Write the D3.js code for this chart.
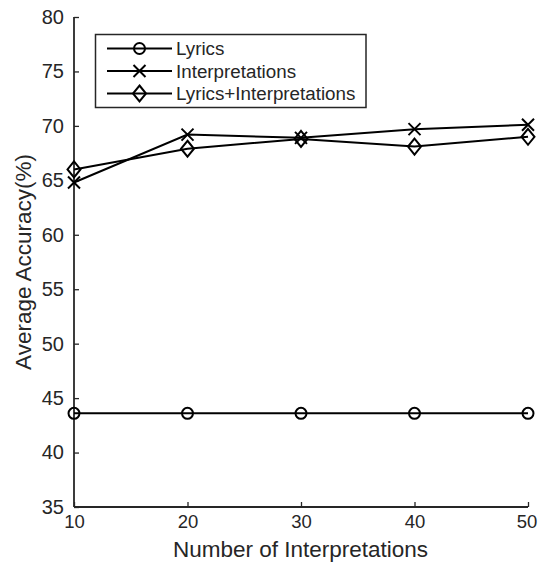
<!DOCTYPE html>
<html>
<head>
<meta charset="utf-8">
<script src="https://cdn.jsdelivr.net/npm/d3@7"></script>
<style>
  body { margin: 0; background: #fff; }
  text { font-family: "Liberation Sans", Arial, Helvetica, sans-serif; fill: #262626; }
</style>
</head>
<body>
<div class="chart"></div>
<script>
// data
const xValues = [10, 20, 30, 40, 50];
const lyrics = [43.6, 43.6, 43.6, 43.6, 43.6];
const interpretations = [64.8, 69.2, 68.9, 69.7, 70.1];
const lyricsInterp = [66.0, 67.9, 68.8, 68.1, 69.0];
const seriesNames = ["Lyrics", "Interpretations", "Lyrics+Interpretations"];
const seriesMarkers = ["circle", "cross", "diamond"];
const yTicks = [35, 40, 45, 50, 55, 60, 65, 70, 75, 80];

const width = 538, height = 563;
const margin = {top: 17, right: 10, bottom: 56, left: 74};
const innerW = 528 - margin.left;
const innerH = 507 - margin.top;

const svg = d3.select(".chart")
  .append("svg")
    .attr("width", width)
    .attr("height", height);

const g = svg.append("g")
    .attr("transform", "translate(" + margin.left + "," + margin.top + ")");

const x = d3.scaleLinear().domain([10, 50]).range([0, innerW]);
const y = d3.scaleLinear().domain([35, 80]).range([innerH, 0]);

// axes, ticks pointing inward like matlab
const xAxis = g.append("g")
    .attr("transform", "translate(0," + innerH + ")")
    .call(d3.axisBottom(x).tickValues(xValues).tickSize(-5).tickPadding(8));
const yAxis = g.append("g")
    .call(d3.axisLeft(y).tickValues(yTicks).tickSize(-5).tickPadding(10));

[xAxis, yAxis].forEach(a => {
  a.selectAll("path.domain").attr("stroke", "#262626").attr("stroke-width", 1.8);
  a.selectAll(".tick line").attr("stroke", "#262626").attr("stroke-width", 1.3);
  a.selectAll(".tick text").style("font-size", "20px").attr("fill", "#262626");
});
// x tick labels a touch smaller so "50" stays inside the page
xAxis.selectAll(".tick text").style("font-size", "18.5px");
xAxis.selectAll(".tick text").filter(d => d === 50).attr("dx", -1.5);
// remove outer tick stubs from the domain path
xAxis.select("path.domain").attr("d", "M0,0H" + innerW);
yAxis.select("path.domain").attr("d", "M0,0V" + innerH);

// marker drawing
function drawMarker(sel, type, cx, cy) {
  if (type === "circle") {
    sel.append("circle").attr("cx", cx).attr("cy", cy).attr("r", 5.5)
      .attr("fill", "none").attr("stroke", "#000").attr("stroke-width", 2);
  } else if (type === "cross") {
    const s = 6;
    sel.append("path")
      .attr("d", `M${cx - s},${cy - s}L${cx + s},${cy + s}M${cx - s},${cy + s}L${cx + s},${cy - s}`)
      .attr("stroke", "#000").attr("stroke-width", 2).attr("fill", "none");
  } else {
    const w = 6.5, h = 8;
    sel.append("path")
      .attr("d", `M${cx},${cy - h}L${cx + w},${cy}L${cx},${cy + h}L${cx - w},${cy}Z`)
      .attr("stroke", "#000").attr("stroke-width", 2).attr("fill", "none");
  }
}

const allSeries = [lyrics, interpretations, lyricsInterp];
const line = d3.line().x((d, i) => x(xValues[i])).y(d => y(d));

allSeries.forEach((vals, k) => {
  g.append("path")
    .datum(vals)
    .attr("d", line)
    .attr("fill", "none")
    .attr("stroke", "#000")
    .attr("stroke-width", 2);
  const mg = g.append("g");
  vals.forEach((v, i) => drawMarker(mg, seriesMarkers[k], x(xValues[i]), y(v)));
});

// legend
const legend = svg.append("g");
legend.append("rect")
  .attr("x", 95.5).attr("y", 34.5).attr("width", 270.5).attr("height", 73)
  .attr("fill", "#fff").attr("stroke", "#262626").attr("stroke-width", 1.5);
const rowY = [48.5, 71, 93.5];
seriesNames.forEach((name, k) => {
  legend.append("line")
    .attr("x1", 107).attr("x2", 172).attr("y1", rowY[k]).attr("y2", rowY[k])
    .attr("stroke", "#000").attr("stroke-width", 2);
  drawMarker(legend, seriesMarkers[k], 139.5, rowY[k]);
  legend.append("text")
    .attr("x", 176).attr("y", rowY[k]).attr("dy", "0.36em")
    .style("font-size", "18.8px")
    .text(name);
});

// axis titles
svg.append("text")
  .attr("x", 300.5).attr("y", 557)
  .attr("text-anchor", "middle")
  .style("font-size", "22.5px")
  .text("Number of Interpretations");

svg.append("text")
  .attr("transform", "translate(31,262) rotate(-90)")
  .attr("text-anchor", "middle")
  .style("font-size", "22.5px")
  .text("Average Accuracy(%)");
</script>
</body>
</html>
